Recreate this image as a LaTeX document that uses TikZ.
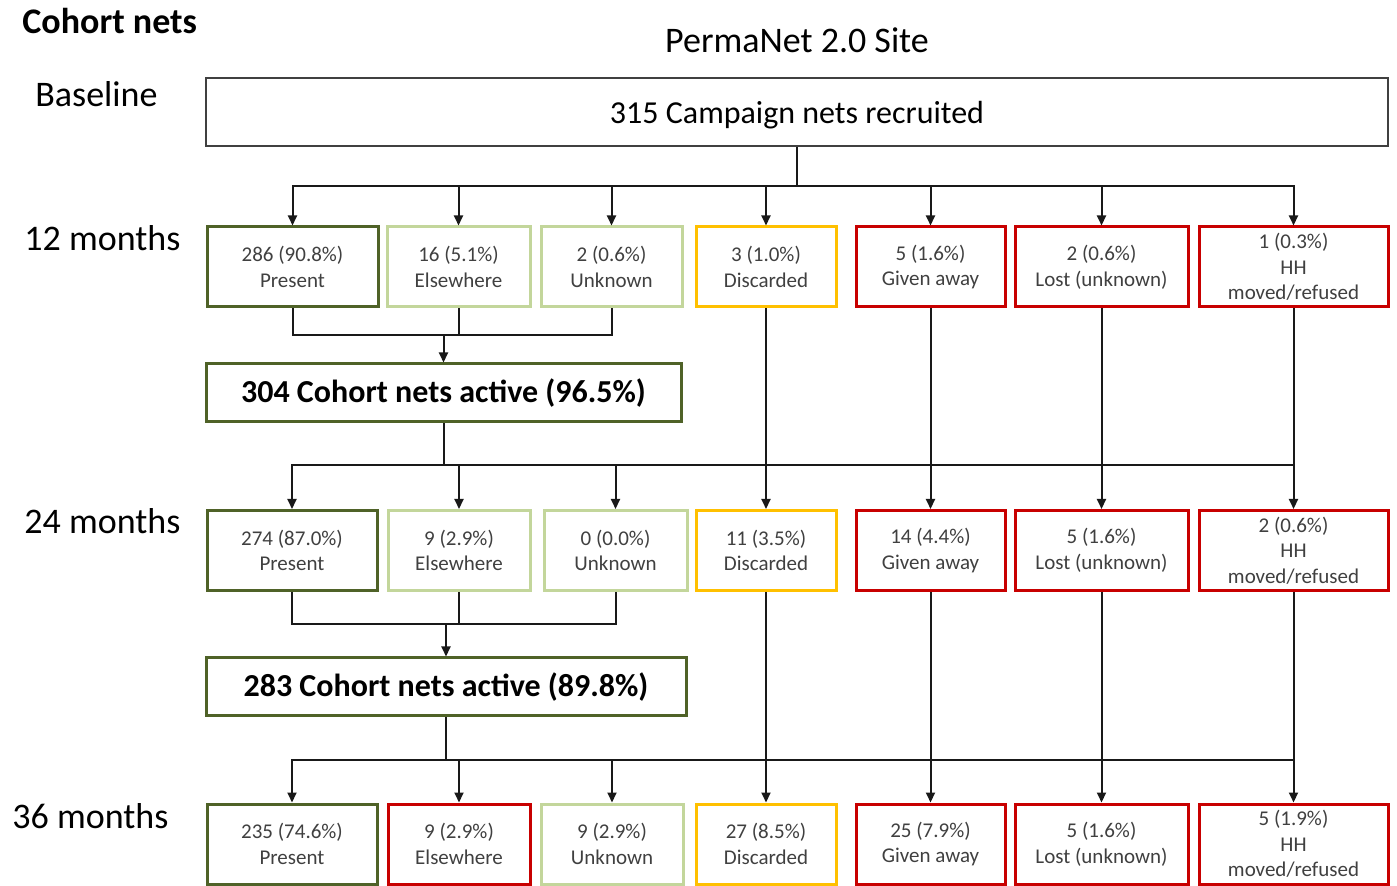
\documentclass[tikz,border=0pt]{standalone}
\usepackage{fontspec}
\setmainfont{Carlito}
\usetikzlibrary{
  arrows.meta,
  positioning,
}
\definecolor{presentcol}{RGB}{79,98,40}
\definecolor{minorcol}{RGB}{195,214,155}
\definecolor{discardcol}{RGB}{255,192,0}
\definecolor{losscol}{RGB}{200,0,0}
\definecolor{linecol}{RGB}{25,25,25}
\definecolor{textcol}{RGB}{64,64,64}
\tikzset{
  outcome/.style={
    rectangle, draw, line width=1.5pt, fill=white,
    align=center, minimum height=40pt, inner sep=0pt,
    text=textcol, font=\fontsize{10.5}{12.8}\selectfont
  },
  presentbox/.style={outcome, draw=presentcol},
  minorbox/.style={outcome, draw=minorcol},
  discardbox/.style={outcome, draw=discardcol},
  lossbox/.style={outcome, draw=losscol},
  activebox/.style={
    rectangle, draw=presentcol, line width=1.5pt, fill=white,
    minimum height=29pt, inner sep=0pt,
    font=\fontsize{16}{19}\selectfont\bfseries
  },
  basebox/.style={
    rectangle, draw=textcol, line width=0.9pt, fill=white,
    minimum width=591pt, minimum height=34pt, inner sep=0pt,
    text depth=0pt, font=\fontsize{16}{19}\selectfont
  },
  rowlabel/.style={font=\fontsize{18}{22}\selectfont, anchor=west, inner sep=0pt},
  link/.style={draw=linecol, line width=1pt},
  flow/.style={link, -{Triangle[length=5pt,width=4.5pt]}},
}

\begin{document}
\begin{tikzpicture}[x=0.5pt, y=-0.5pt]
  \useasboundingbox (0,0) rectangle (1397,886);

  % ── Headings and time-point labels ──
  \node[rowlabel, font=\fontsize{18}{22}\selectfont\bfseries] (title) at (22,21) {Cohort nets};
  \node[font=\fontsize{18}{22}\selectfont, inner sep=0pt] (site) at (797,40) {PermaNet 2.0 Site};
  \node[rowlabel] (lab0)  at (35,94)  {Baseline};
  \node[rowlabel] (lab12) at (24,238) {12 months};
  \node[rowlabel] (lab24) at (24,521) {24 months};
  \node[rowlabel] (lab36) at (12,816) {36 months};

  % ── Baseline ──
  \node[basebox] (base) at (797,112) {315 Campaign nets recruited};

  % ── Row 1: 12 months ──
  \node[presentbox, minimum width=85.5pt] (p1) at (292.5,267)  {286 (90.8\%)\\Present};
  \node[minorbox,   minimum width=71.5pt] (e1) at (458.5,267)  {16 (5.1\%)\\Elsewhere};
  \node[minorbox,   minimum width=70.5pt] (u1) at (611.5,267)  {2 (0.6\%)\\Unknown};
  \node[discardbox, minimum width=70pt]   (d1) at (766,267)    {3 (1.0\%)\\Discarded};
  \node[lossbox,    minimum width=74.5pt] (g1) at (930.5,267)  {5 (1.6\%)\\Given away};
  \node[lossbox,    minimum width=86.5pt] (l1) at (1101.5,267) {2 (0.6\%)\\Lost (unknown)};
  \node[lossbox,    minimum width=94.5pt] (h1) at (1293.5,267) {1 (0.3\%)\\HH\\moved/refused};

  \node[activebox, minimum width=237.5pt] (a1) at (443.5,393) {304 Cohort nets active (96.5\%)};

  % ── Row 2: 24 months ──
  \node[presentbox, minimum width=85pt]   (p2) at (292,550.5)    {274 (87.0\%)\\Present};
  \node[minorbox,   minimum width=71pt]   (e2) at (459,550.5)    {9 (2.9\%)\\Elsewhere};
  \node[minorbox,   minimum width=71.5pt] (u2) at (615.5,550.5)  {0 (0.0\%)\\Unknown};
  \node[discardbox, minimum width=70pt]   (d2) at (766,550.5)    {11 (3.5\%)\\Discarded};
  \node[lossbox,    minimum width=74.5pt] (g2) at (930.5,550.5)  {14 (4.4\%)\\Given away};
  \node[lossbox,    minimum width=86.5pt] (l2) at (1101.5,550.5) {5 (1.6\%)\\Lost (unknown)};
  \node[lossbox,    minimum width=94.5pt] (h2) at (1293.5,550.5) {2 (0.6\%)\\HH\\moved/refused};

  \node[activebox, minimum width=240pt] (a2) at (446,687) {283 Cohort nets active (89.8\%)};

  % ── Row 3: 36 months ──
  \node[presentbox, minimum width=85pt]   (p3) at (292,844)    {235 (74.6\%)\\Present};
  \node[lossbox,    minimum width=71pt]   (e3) at (459,844)    {9 (2.9\%)\\Elsewhere};
  \node[minorbox,   minimum width=71pt]   (u3) at (612,844)    {9 (2.9\%)\\Unknown};
  \node[discardbox, minimum width=70pt]   (d3) at (766,844)    {27 (8.5\%)\\Discarded};
  \node[lossbox,    minimum width=74.5pt] (g3) at (930.5,844)  {25 (7.9\%)\\Given away};
  \node[lossbox,    minimum width=86.5pt] (l3) at (1101.5,844) {5 (1.6\%)\\Lost (unknown)};
  \node[lossbox,    minimum width=94.5pt] (h3) at (1293.5,844) {5 (1.9\%)\\HH\\moved/refused};

  % ── Branch and merge points ──
  \coordinate (s0) at (797,186);
  \coordinate (m1) at (443.5,335);
  \coordinate (s1) at (443.5,465);
  \coordinate (m2) at (446,624);
  \coordinate (s2) at (446,760);

  % ── Baseline -> 12 months ──
  \draw[link] (base) -- (s0);
  \draw[flow] (s0) -| (p1.north);
  \draw[flow] (s0) -| (e1.north);
  \draw[flow] (s0) -| (u1.north);
  \draw[flow] (s0) -| (d1.north);
  \draw[flow] (s0) -| (g1.north);
  \draw[flow] (s0) -| (l1.north);
  \draw[flow] (s0) -| (h1.north);

  % ── 12 months -> active ──
  \draw[link] (p1.south) |- (m1);
  \draw[link] (u1.south) |- (m1);
  \draw[link] (e1.south) -- (e1.south |- m1);
  \draw[flow] (m1) -- (a1.north);

  % ── active -> 24 months ──
  \draw[link] (a1.south) -- (s1);
  \draw[link] (s1) -- (s1 -| h2.north);
  \draw[flow] (s1) -| (p2.north);
  \draw[flow] (s1) -| (e2.north);
  \draw[flow] (s1) -| (u2.north);
  \draw[flow] (d1) -- (d2);
  \draw[flow] (g1) -- (g2);
  \draw[flow] (l1) -- (l2);
  \draw[flow] (h1) -- (h2);

  % ── 24 months -> active ──
  \draw[link] (p2.south) |- (m2);
  \draw[link] (u2.south) |- (m2);
  \draw[link] (e2.south) -- (e2.south |- m2);
  \draw[flow] (m2) -- (a2.north);

  % ── active -> 36 months ──
  \draw[link] (a2.south) -- (s2);
  \draw[link] (s2) -- (s2 -| h3.north);
  \draw[flow] (s2) -| (p3.north);
  \draw[flow] (s2) -| (e3.north);
  \draw[flow] (s2) -| (u3.north);
  \draw[flow] (d2) -- (d3);
  \draw[flow] (g2) -- (g3);
  \draw[flow] (l2) -- (l3);
  \draw[flow] (h2) -- (h3);

\end{tikzpicture}
\end{document}
